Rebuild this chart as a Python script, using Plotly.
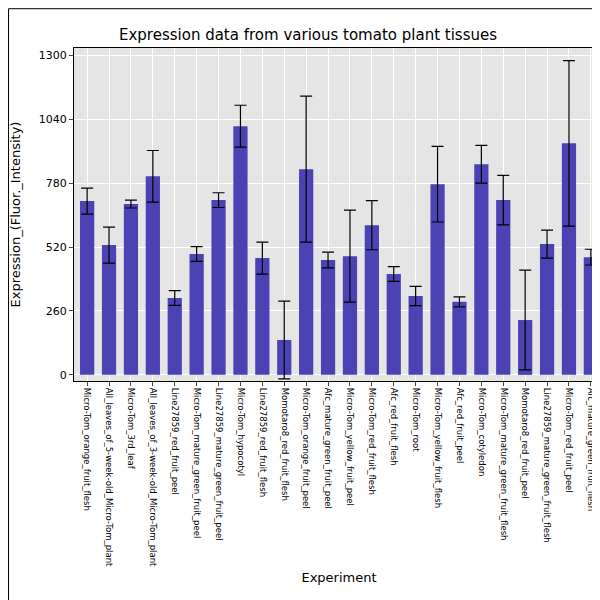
import plotly.graph_objects as go

experiments = [
    "Micro-Tom_orange_fruit_flesh", "All_leaves_of_5-week-old_Micro-Tom_plant",
    "Micro-Tom_3rd_leaf", "All_leaves_of_3-week-old_Micro-Tom_plant",
    "Line27859_red_fruit_peel", "Micro-Tom_mature_green_fruit_peel",
    "Line27859_mature_green_fruit_peel", "Micro-Tom_hypocotyl",
    "Line27859_red_fruit_flesh", "Momotaro8_red_fruit_flesh",
    "Micro-Tom_orange_fruit_peel", "Afc_mature_green_fruit_peel",
    "Micro-Tom_yellow_fruit_peel", "Micro-Tom_red_fruit_flesh",
    "Afc_red_fruit_flesh", "Micro-Tom_root", "Micro-Tom_yellow_fruit_flesh",
    "Afc_red_fruit_peel", "Micro-Tom_cotyledon", "Micro-Tom_mature_green_fruit_flesh",
    "Momotaro8_red_fruit_peel", "Line27859_mature_green_fruit_flesh",
    "Micro-Tom_red_fruit_peel", "Afc_mature_green_fruit_flesh",
]
expression = [707, 528, 695, 808, 313, 492, 711, 1012, 475, 142, 837, 467,
              483, 609, 410, 321, 776, 297, 857, 711, 223, 532, 942, 479]
errors = [53, 73, 16, 105, 30, 30, 30, 85, 65, 158, 297, 32,
          187, 100, 30, 39, 154, 20, 77, 101, 203, 57, 337, 32]

fig = go.Figure(go.Bar(
    x=experiments, y=expression,
    marker=dict(color="#4b43b3", line=dict(width=0)),
    width=0.65,
    error_y=dict(type="data", array=errors, color="black", thickness=1.2, width=6),
))

fig.update_layout(
    width=600, height=600,
    paper_bgcolor="white", plot_bgcolor="#e5e5e5",
    font=dict(family="DejaVu Sans", size=11, color="black"),
    title=dict(text="Expression data from various tomato plant tissues",
               x=0.5, xanchor="center", y=0.965, font=dict(size=15)),
    margin=dict(l=66, r=4, t=40, b=227, autoexpand=False),
    showlegend=False,
)
fig.update_xaxes(title=dict(text="Experiment", standoff=6), tickangle=90,
                 tickfont=dict(size=8.5), showgrid=True, gridcolor="white",
                 ticks="outside", ticklen=4, range=[-0.6, 23.6], automargin=False,
                 showline=True, linecolor="black", mirror=True)
fig.update_yaxes(title=dict(text="Expression_(Fluor._Intensity)"), automargin=False,
                 range=[-25, 1330], tickvals=[0, 260, 520, 780, 1040, 1300],
                 showgrid=True, gridcolor="white", zeroline=False,
                 ticks="outside", ticklen=4,
                 showline=True, linecolor="black", mirror=True)
fig.add_shape(type="rect", xref="paper", yref="paper", x0=-0.1235, x1=1.006,
              y0=-0.679, y1=1.118, line=dict(color="black", width=1))

fig.write_html("out.html")
